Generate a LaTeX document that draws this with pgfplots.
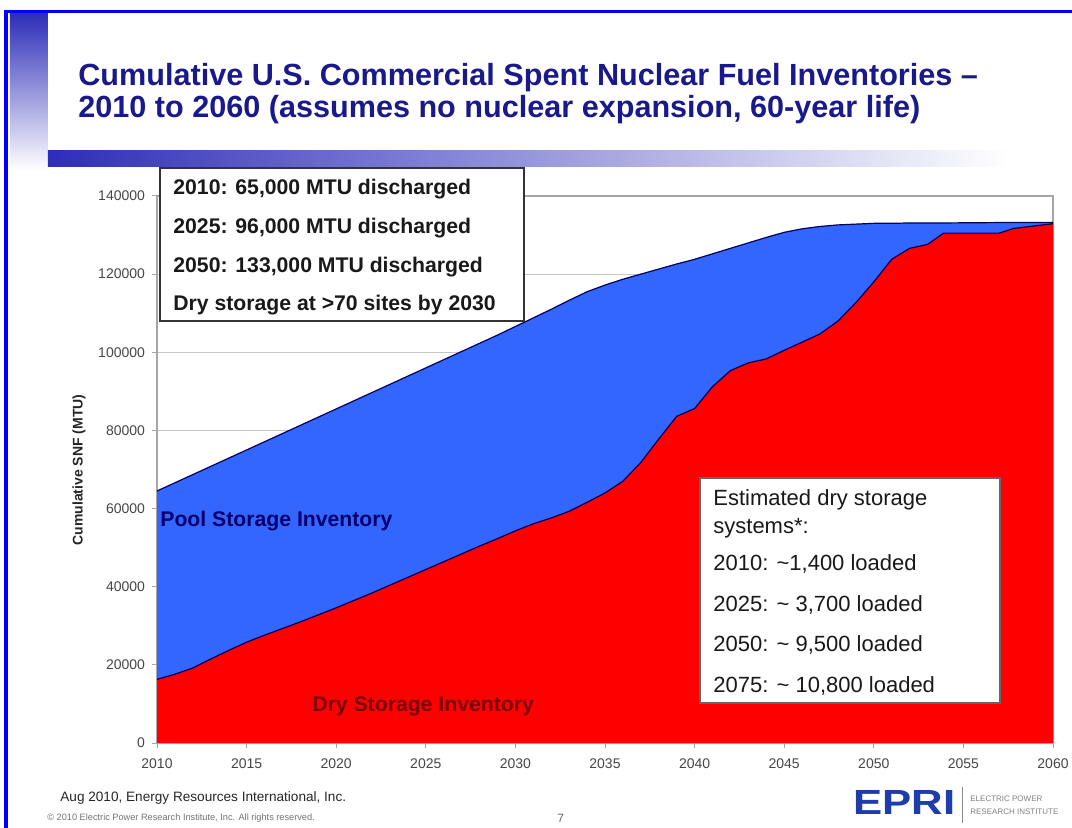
\documentclass[border=0pt]{standalone}
\usepackage{pgfplots}
\pgfplotsset{compat=1.18}
\usepackage{pgfplotstable}
\usepackage{fontspec}
\setmainfont{Liberation Sans}
\definecolor{slideblue}{RGB}{0,0,255}
\definecolor{barblue}{RGB}{45,45,185}
\definecolor{titleblue}{RGB}{25,25,140}
\definecolor{poolblue}{RGB}{51,102,255}
\definecolor{dryred}{RGB}{255,0,0}
\definecolor{edgenavy}{RGB}{0,0,90}
\definecolor{poollab}{RGB}{0,0,110}
\definecolor{drylab}{RGB}{120,0,0}
\definecolor{ticktext}{RGB}{70,70,70}
\definecolor{eprib}{RGB}{30,60,170}

\pgfplotstableread{
year total dry
2010 64500 16300
2011 66600 17600
2012 68700 19200
2013 70800 21500
2014 72900 23700
2015 75000 25800
2016 77100 27600
2017 79200 29300
2018 81300 31000
2019 83400 32800
2020 85500 34600
2021 87600 36500
2022 89700 38400
2023 91800 40400
2024 93900 42400
2025 96000 44400
2026 98100 46400
2027 100200 48400
2028 102300 50400
2029 104400 52300
2030 106600 54300
2031 108800 56100
2032 111000 57600
2033 113300 59300
2034 115500 61600
2035 117200 64000
2036 118700 67000
2037 120000 71800
2038 121300 77800
2039 122600 83600
2039.6 123300 84800
2040 123800 85600
2041 125200 91200
2042 126600 95300
2043 128000 97300
2044 129400 98300
2045 130700 100500
2046 131600 102600
2047 132200 104700
2048 132600 108000
2049 132800 112700
2050 133000 118000
2051 133000 123800
2052 133100 126600
2053 133100 127600
2053.9 133100 130500
2057 133200 130500
2057.8 133200 131700
2060 133200 132900
}\snf

\begin{document}
\begin{tikzpicture}
\path[use as bounding box] (0,0) rectangle (536bp,414bp);
\fill[white] (0,0) rectangle (536bp,414bp);

\begin{axis}[
  at={(78.5bp,42.5bp)}, anchor=south west,
  scale only axis, width=448bp, height=273.5bp,
  xmin=2010, xmax=2060, ymin=0, ymax=140000,
  xtick={2010,2015,...,2060},
  ytick={0,20000,...,140000},
  scaled y ticks=false, scaled x ticks=false,
  /pgf/number format/.cd, fixed, 1000 sep={}, assume math mode=true, /pgfplots/.cd,
  ticklabel style={font=\fontsize{7bp}{8bp}\selectfont, text=ticktext},
  xticklabel style={yshift=-2bp},
  ymajorgrids,
  grid style={draw=gray!45, line width=0.5bp},
  axis line style={draw=gray!70, line width=0.6bp},
  tick style={draw=gray!70, line width=0.5bp},
  tick align=outside, major tick length=2.5bp,
  xtick pos=bottom, ytick pos=left,
]
\addplot[fill=poolblue, draw=none] table[x=year,y=total]{\snf} \closedcycle;
\addplot[fill=dryred, draw=none] table[x=year,y=dry]{\snf} \closedcycle;
\addplot[draw=edgenavy, line width=0.6bp, no marks] table[x=year,y=total]{\snf};
\addplot[draw=edgenavy, line width=0.6bp, no marks] table[x=year,y=dry]{\snf};
\end{axis}

\begin{scope}[x=0.5bp,y=0.5bp]
% slide border
\fill[slideblue] (4,815) rectangle (1072,818);
\fill[slideblue] (4,0) rectangle (8,818);
% gradient bars
\shade[top color=barblue, bottom color=white] (10,658) rectangle (48,815);
\shade[left color=barblue, right color=white] (48,662) rectangle (1010,678);
% title
\node[anchor=base west, inner sep=0, text=titleblue, font=\fontsize{15.3bp}{18bp}\selectfont\bfseries] at (78,743) {Cumulative U.S. Commercial Spent Nuclear Fuel Inventories –};
\node[anchor=base west, inner sep=0, text=titleblue, font=\fontsize{15.3bp}{18bp}\selectfont\bfseries] at (78,711) {2010 to 2060 (assumes no nuclear expansion, 60-year life)};
% y label
\node[rotate=90, inner sep=0, font=\fontsize{7bp}{8bp}\selectfont\bfseries, text=black!85] at (79,358) {Cumulative SNF (MTU)};
% box 1
\draw[fill=white, draw=black!80, line width=0.7bp] (160,507) rectangle (524,660);
\begin{scope}[every node/.style={anchor=base west, inner sep=0, font=\fontsize{10.6bp}{12bp}\selectfont\bfseries, text=black!90}]
\node at (173,633.5) {2010: 65,000 MTU discharged};
\node at (173,594.5) {2025: 96,000 MTU discharged};
\node at (173,555.5) {2050: 133,000 MTU discharged};
\node at (173,517.5) {Dry storage at >70 sites by 2030};
\end{scope}
% box 2
\draw[fill=white, draw=black!60, line width=0.7bp] (700,125) rectangle (1000,350);
\begin{scope}[every node/.style={anchor=base west, inner sep=0, font=\fontsize{11bp}{12bp}\selectfont, text=black!90}]
\node at (713,323) {Estimated dry storage};
\node at (713,295) {systems*:};
\node at (713,258) {2010: \char"007E 1,400 loaded};
\node at (713,217) {2025: \char"007E{} 3,700 loaded};
\node at (713,177) {2050: \char"007E{} 9,500 loaded};
\node at (713,136) {2075: \char"007E{} 10,800 loaded};
\end{scope}
% area labels
\node[anchor=base west, inner sep=0, font=\fontsize{10.6bp}{12bp}\selectfont\bfseries, text=poollab] at (160,302) {Pool Storage Inventory};
\node[anchor=base west, inner sep=0, font=\fontsize{10.6bp}{12bp}\selectfont\bfseries, text=drylab] at (312,117) {Dry Storage Inventory};
% footer
\node[anchor=base west, inner sep=0, font=\fontsize{6.8bp}{8bp}\selectfont, text=black!85] at (60,27) {Aug 2010, Energy Resources International, Inc.};
\node[anchor=base west, inner sep=0, font=\fontsize{4.6bp}{5bp}\selectfont, text=black!55] at (47,8) {© 2010 Electric Power Research Institute, Inc. All rights reserved.};
\node[anchor=base west, inner sep=0, font=\fontsize{6bp}{7bp}\selectfont, text=black!60] at (557,6) {7};
\node[anchor=south west, inner sep=0, text=eprib] at (853,13) {\resizebox{51bp}{12bp}{\bfseries EPRI}};
\draw[black!45, line width=0.5bp] (963,5) -- (963,41);
\node[anchor=base west, inner sep=0, font=\fontsize{4bp}{5bp}\selectfont, text=black!50] at (970,27) {ELECTRIC POWER};
\node[anchor=base west, inner sep=0, font=\fontsize{4bp}{5bp}\selectfont, text=black!50] at (970,14) {RESEARCH INSTITUTE};
\end{scope}
\end{tikzpicture}
\end{document}
